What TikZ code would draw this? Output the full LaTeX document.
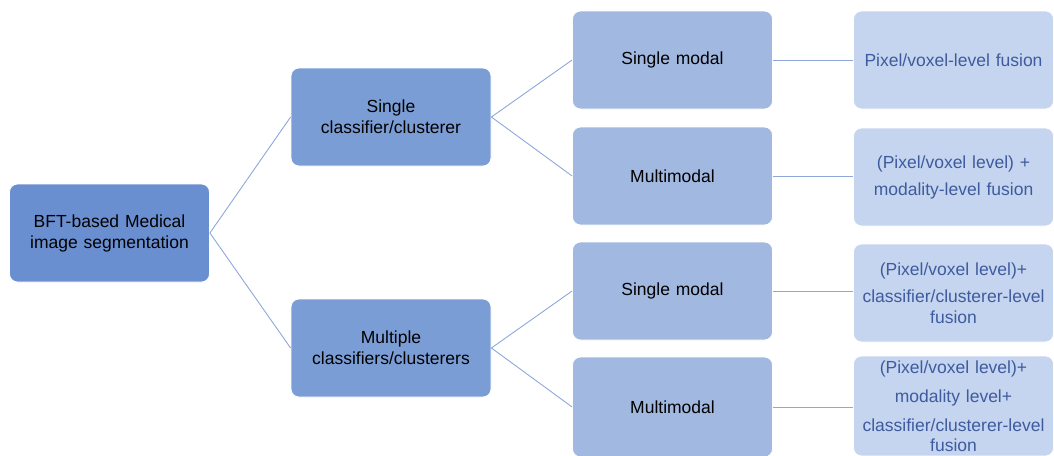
\documentclass[tikz,border=0pt]{standalone}
\usepackage{fontspec}
\setmainfont{Liberation Sans}
\usepackage{tikz}

\definecolor{rootblue}{HTML}{6A8FD1}
\definecolor{midblue}{HTML}{7B9DD5}
\definecolor{lightblue}{HTML}{A1B8E1}
\definecolor{paleblue}{HTML}{C6D5EF}
\definecolor{textblue}{HTML}{3D5B9E}
\definecolor{lineblue}{HTML}{8EA8DC}

\begin{document}
\begin{tikzpicture}[x=1pt,y=1pt,
  box/.style={rectangle,rounded corners=8pt,draw=white,line width=0.8pt,
    minimum width=200pt,minimum height=98pt,inner sep=0pt,text width=192pt,
    align=center,font=\fontsize{17.5}{21}\selectfont},
  rootbox/.style={box,fill=rootblue},
  catbox/.style={box,fill=midblue},
  modbox/.style={box,fill=lightblue},
  fusebox/.style={box,fill=paleblue,text=textblue},
  link/.style={draw=lineblue,line width=0.9pt}]
\useasboundingbox (0,0) rectangle (1054,-455);

\path (109.5,-233) node[rootbox] (R) {BFT-based Medical\\image segmentation};

\path (391,-117) node[catbox] (S) {Single\\classifier/clusterer};
\path (391,-348) node[catbox] (M) {Multiple\\classifiers/clusterers};

\path (672.5,-60)  node[modbox] (S1) {Single modal};
\path (672.5,-176) node[modbox] (S2) {Multimodal};
\path (672.5,-291) node[modbox] (M1) {Single modal};
\path (672.5,-407) node[modbox,minimum height=100pt] (M2) {Multimodal};

\path (953.5,-60)  node[fusebox] (F1) {Pixel/voxel-level fusion};
\path (953.5,-177) node[fusebox] (F2) {(Pixel/voxel level) +\\[6pt]modality-level fusion};
\path (953.5,-293) node[fusebox] (F3) {(Pixel/voxel level)+\\[6pt]classifier/clusterer-level\\fusion};
\path (953.5,-406) node[fusebox,minimum height=100pt] (F4) {(Pixel/voxel level)+\\[8pt]modality level+\\[8pt]classifier/clusterer-level\\[-1pt]fusion};

\path[link] (R.east) edge (S.west);
\path[link] (R.east) edge (M.west);
\path[link] (S.east) edge (S1.west);
\path[link] (S.east) edge (S2.west);
\path[link] (M.east) edge (M1.west);
\path[link] (M.east) edge (M2.west);
\path[link] (S1) edge (F1);
\path[link] (S2) edge (F2.west |- S2);
\path[link] (M1) edge (F3.west |- M1);
\path[link] (M2) edge (F4.west |- M2);

\end{tikzpicture}
\end{document}
